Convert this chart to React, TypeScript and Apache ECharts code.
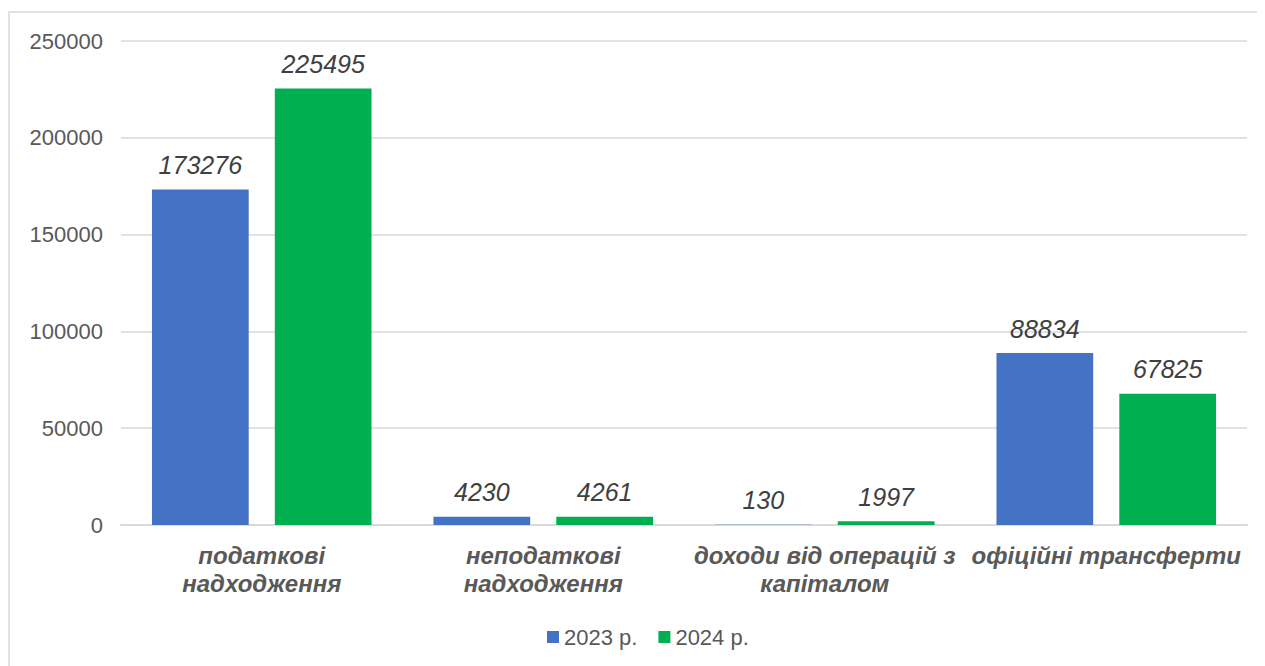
import React, { useEffect, useRef } from "react";
import * as echarts from "echarts";

const categories = [
  "податкові\nнадходження",
  "неподаткові\nнадходження",
  "доходи від операцій з\nкапіталом",
  "офіційні трансферти",
];
const series2023 = [173276, 4230, 130, 88834];
const series2024 = [225495, 4261, 1997, 67825];
const seriesNames = ["2023 р.", "2024 р."];
const yTicks = { min: 0, max: 250000, interval: 50000 };

const sans = "'Liberation Sans', Arial, sans-serif";

export default function App() {
  const ref = useRef<HTMLDivElement>(null);
  useEffect(() => {
    if (!ref.current) return;
    const chart = echarts.init(ref.current, undefined, { renderer: "svg" });
    const label = {
      show: true,
      position: "top",
      distance: 12,
      fontFamily: sans,
      fontStyle: "italic",
      fontSize: 25,
      color: "#404040",
    };
    chart.setOption({
      animation: false,
      backgroundColor: "#ffffff",
      graphic: [
        {
          type: "rect",
          shape: { x: 1, y: 4, width: 1300, height: 700 },
          style: { fill: "none", stroke: "#d9d9d9", lineWidth: 1.5 },
          silent: true,
        },
      ],
      legend: {
        top: 613,
        left: 534,
        itemWidth: 12,
        itemHeight: 12,
        itemGap: 21,
        icon: "rect",
        textStyle: { fontFamily: sans, fontSize: 22, color: "#595959" },
        data: seriesNames,
      },
      grid: { left: 113, right: 18, top: 33, bottom: 141 },
      xAxis: {
        type: "category",
        data: categories,
        axisTick: { show: false },
        axisLine: { lineStyle: { color: "#d9d9d9", width: 2 } },
        axisLabel: {
          interval: 0,
          margin: 16,
          fontFamily: sans,
          fontStyle: "italic",
          fontWeight: "bold",
          fontSize: 24,
          lineHeight: 28,
          color: "#595959",
        },
      },
      yAxis: {
        type: "value",
        min: yTicks.min,
        max: yTicks.max,
        interval: yTicks.interval,
        axisLine: { show: false },
        axisTick: { show: false },
        splitLine: { lineStyle: { color: "#d9d9d9", width: 1.5 } },
        axisLabel: {
          fontFamily: sans,
          fontSize: 22,
          color: "#595959",
          margin: 18,
          formatter: (v: number) => String(v),
        },
      },
      series: [
        {
          name: seriesNames[0],
          type: "bar",
          data: series2023,
          itemStyle: { color: "#4472c4" },
          barGap: "27%",
          barCategoryGap: "22%",
          label,
        },
        {
          name: seriesNames[1],
          type: "bar",
          data: series2024,
          itemStyle: { color: "#00b050" },
          label,
        },
      ],
    });
    return () => chart.dispose();
  }, []);
  return <div ref={ref} style={{ width: 1257, height: 658 }} />;
}
